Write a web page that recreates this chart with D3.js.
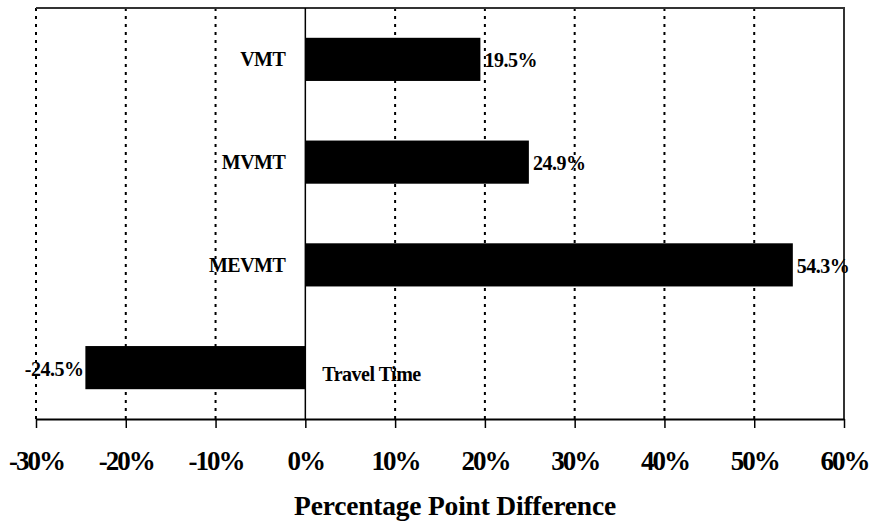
<!DOCTYPE html>
<meta charset="utf-8">
<style>
body { margin: 0; background: #fff; }
text { font-family: "Liberation Serif", "Times New Roman", serif; font-weight: bold; fill: #000; }
.grid { stroke: #000; stroke-width: 2px; stroke-dasharray: 3,5; }
</style>
<svg width="871" height="523"></svg>
<script src="https://cdnjs.cloudflare.com/ajax/libs/d3/7.8.5/d3.min.js"></script>
<script>
// categories, top to bottom
var categories = ["VMT", "MVMT", "MEVMT", "Travel Time"];
var values = [19.5, 24.9, 54.3, -24.5];
var valueLabels = ["19.5%", "24.9%", "54.3%", "-24.5%"];
var ticks = [-30, -20, -10, 0, 10, 20, 30, 40, 50, 60];

var svg = d3.select("svg"),
    margin = {top: 8, right: 27, bottom: 104, left: 36},
    width = 871 - margin.left - margin.right,
    height = 523 - margin.top - margin.bottom,
    g = svg.append("g").attr("transform", "translate(" + margin.left + "," + margin.top + ")");

var x = d3.scaleLinear().domain([-30, 60]).range([0, width]);
var y = d3.scaleBand().domain(categories).range([0, height]).paddingInner(0.58).paddingOuter(0.29);

// gridlines (dotted), skip zero
g.selectAll(".grid")
  .data(ticks.filter(function(d) { return d != 0 && d != 60; }))
  .enter().append("line")
    .attr("class", "grid")
    .attr("x1", function(d) { return x(d); })
    .attr("x2", function(d) { return x(d); })
    .attr("y1", 0)
    .attr("y2", height);

// frame: top and right solid
g.append("path")
  .attr("d", "M0,0H" + width + "V" + height)
  .attr("fill", "none")
  .attr("stroke", "#333")
  .attr("stroke-width", 2);

// bars
g.selectAll(".bar")
  .data(values)
  .enter().append("rect")
    .attr("x", function(d) { return x(Math.min(0, d)); })
    .attr("width", function(d) { return Math.abs(x(d) - x(0)); })
    .attr("y", function(d, i) { return y(categories[i]); })
    .attr("height", y.bandwidth())
    .attr("fill", "#000");

// zero line
g.append("line")
  .attr("x1", x(0)).attr("x2", x(0))
  .attr("y1", 0).attr("y2", height)
  .attr("stroke", "#000").attr("stroke-width", 1.5);

// x axis
var axis = g.append("g")
  .attr("transform", "translate(0," + height + ")")
  .call(d3.axisBottom(x).tickValues(ticks).tickSize(9).tickSizeOuter(0)
    .tickFormat(function(d) { return d + "%"; }));
axis.select(".domain").attr("stroke", "#000").attr("stroke-width", 2);
axis.selectAll(".tick line").attr("stroke", "#000").attr("stroke-width", 1.5);
axis.selectAll(".tick text")
  .attr("y", 51)
  .attr("dy", 0)
  .style("font-family", "Liberation Serif, serif")
  .style("font-weight", "bold")
  .style("font-size", "27px")
  .style("letter-spacing", "-2px");

// category labels
g.selectAll(".cat")
  .data(categories)
  .enter().append("text")
    .attr("x", function(d, i) { return values[i] >= 0 ? x(0) - 20 : x(0) + 17; })
    .attr("y", function(d) { return y(d) + y.bandwidth() / 2 + (d == "Travel Time" ? 13 : 7); })
    .attr("text-anchor", function(d, i) { return values[i] >= 0 ? "end" : "start"; })
    .style("font-size", "20px")
    .style("letter-spacing", "-0.5px")
    .text(function(d) { return d; });

// value labels
g.selectAll(".val")
  .data(values)
  .enter().append("text")
    .attr("x", function(d) { return d >= 0 ? x(d) + 4 : x(d) - 2; })
    .attr("y", function(d, i) { return y(categories[i]) + y.bandwidth() / 2 + 8; })
    .attr("text-anchor", function(d) { return d >= 0 ? "start" : "end"; })
    .style("font-size", "20px")
    .style("letter-spacing", "-0.5px")
    .text(function(d, i) { return valueLabels[i]; });

// axis title
svg.append("text")
  .attr("x", margin.left + width / 2 + 15)
  .attr("y", 515)
  .attr("text-anchor", "middle")
  .style("font-size", "27.5px")
  .style("letter-spacing", "-0.2px")
  .text("Percentage Point Difference");
</script>
